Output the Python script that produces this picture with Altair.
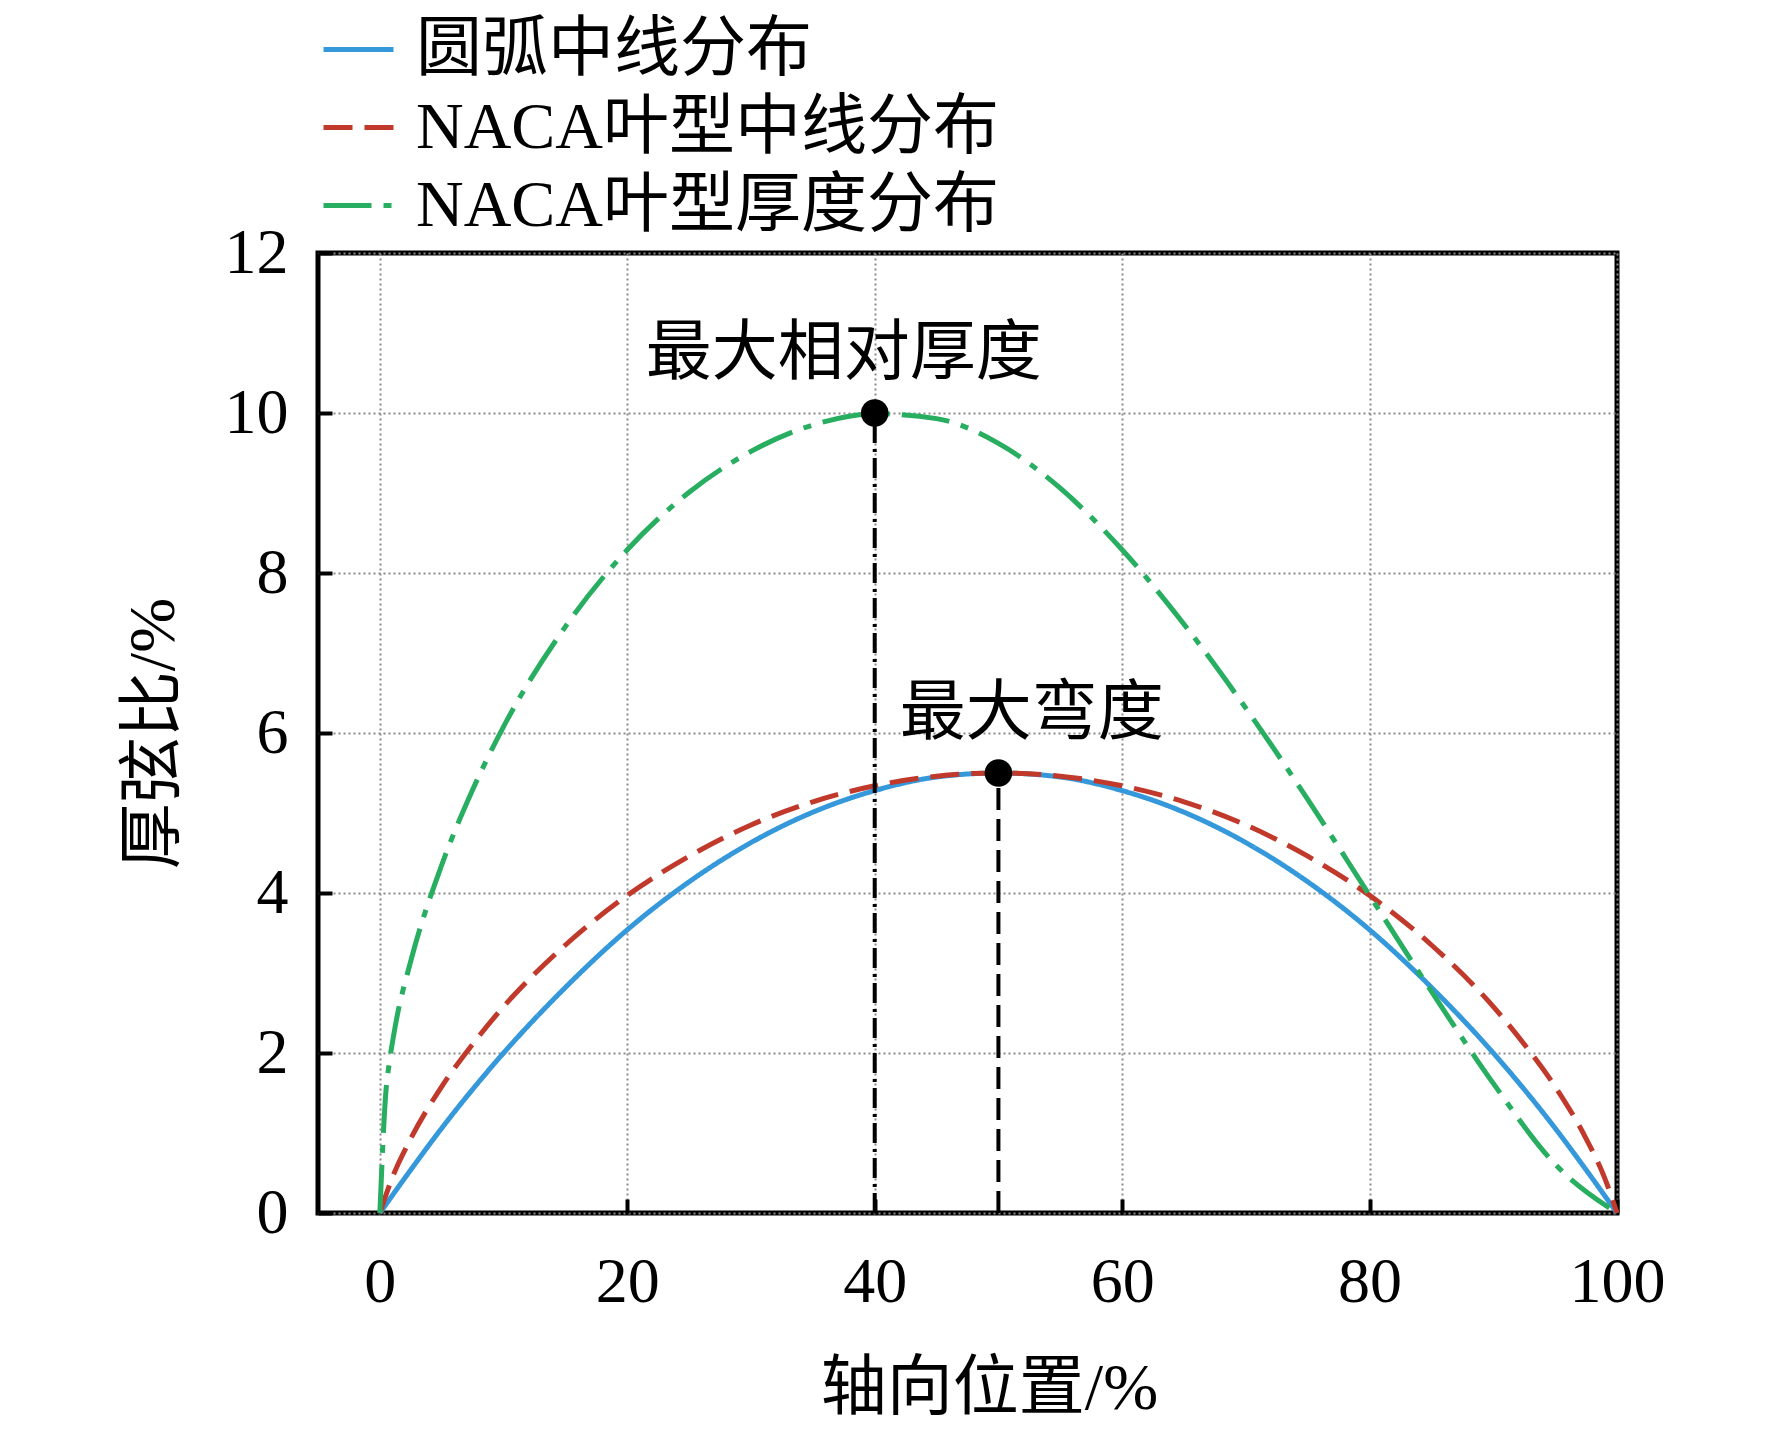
import altair as alt
import pandas as pd

FONT = "Liberation Serif, Noto Sans CJK SC"

series_names = ["圆弧中线分布", "NACA叶型中线分布", "NACA叶型厚度分布"]
series_colors = ["#3498DB", "#C0392B", "#27AE60"]
series_dashes = [[1, 0], [29, 12], [48, 12, 8, 12]]

# 圆弧中线
arc_x = [0, 2.5, 5, 10, 15, 20, 25, 30, 35, 40, 45, 50, 55, 60, 65, 70, 75, 80, 85, 90, 95, 97.5, 100]
arc_y = [0, 0.54, 1.06, 2.0, 2.82, 3.54, 4.14, 4.63, 5.01, 5.28, 5.45, 5.5, 5.45, 5.28, 5.01, 4.63, 4.14, 3.54, 2.82, 2.0, 1.06, 0.54, 0]

# NACA 中线
mean_x = [0, 1, 2.5, 5, 7.5, 10, 15, 20, 25, 30, 35, 40, 45, 50, 55, 60, 65, 70, 75, 80, 85, 90, 92.5, 95, 97.5, 99, 100]
mean_y = [0, 0.44, 0.93, 1.58, 2.11, 2.58, 3.35, 3.97, 4.46, 4.85, 5.14, 5.34, 5.46, 5.5, 5.46, 5.34, 5.14, 4.85, 4.46, 3.97, 3.35, 2.58, 2.11, 1.58, 0.93, 0.44, 0]

# NACA 厚度
thick_x = [0, 0.5, 0.75, 1.25, 2.5, 5, 7.5, 10, 15, 20, 25, 30, 35, 40, 45, 50, 55, 60, 65, 70, 75, 80, 85, 90, 95, 100]
thick_y = [0, 1.54, 1.86, 2.34, 3.15, 4.35, 5.29, 6.08, 7.33, 8.29, 9.01, 9.52, 9.85, 9.99, 9.93, 9.62, 9.06, 8.29, 7.36, 6.31, 5.17, 3.97, 2.77, 1.62, 0.61, 0]

marker_x = [40, 50]
marker_y = [10, 5.5]

ann_text = ["最大相对厚度", "最大弯度"]
ann_x = [37.5, 52.7]
ann_y = [10.74, 6.24]

x_ticks = [0, 20, 40, 60, 80, 100]
y_ticks = [0, 2, 4, 6, 8, 10, 12]

rows = []
for name, xs, ys in zip(series_names, [arc_x, mean_x, thick_x], [arc_y, mean_y, thick_y]):
    for i, (xv, yv) in enumerate(zip(xs, ys)):
        rows.append({"series": name, "x": xv, "y": yv, "i": i})
df = pd.DataFrame(rows)

xscale = alt.Scale(domain=[-5, 100], nice=False, zero=False)
yscale = alt.Scale(domain=[0, 12], nice=False, zero=False)

xaxis = alt.Axis(
    values=x_ticks, format="d", offset=-14, tickSize=14, tickWidth=4, tickColor="black",
    domain=False, grid=True, gridDash=[2, 3], gridColor="#8a8a8a", gridWidth=2,
    labelFont=FONT, labelFontSize=64, labelPadding=37, labelColor="black",
    labelFlush=False, labelOverlap=False,
    title="轴向位置/%", titleFont=FONT, titleFontSize=66, titleFontWeight="normal",
    titleColor="black", titleX=671, titleY=189, titleBaseline="middle",
)
yaxis = alt.Axis(
    values=y_ticks, format="d", offset=-14, tickSize=14, tickWidth=4, tickColor="black",
    domain=False, grid=True, gridDash=[2, 3], gridColor="#8a8a8a", gridWidth=2,
    labelFont=FONT, labelFontSize=64, labelPadding=30, labelColor="black",
    labelOverlap=False,
    title="厚弦比/%", titleFont=FONT, titleFontSize=66, titleFontWeight="normal",
    titleColor="black", titleX=-179, titleY=480, titleBaseline="middle", titleAngle=270,
)

legend = alt.Legend(
    title=None, orient="none", legendX=3, legendY=-241, padding=0,
    symbolType="stroke", symbolSize=4900, symbolStrokeWidth=5,
    labelFont=FONT, labelFontSize=66, labelColor="black", labelOffset=20,
    labelLimit=1000, rowPadding=7,
)

lines = alt.Chart(df).mark_line(strokeWidth=5, interpolate="monotone").encode(
    x=alt.X("x:Q", scale=xscale, axis=xaxis),
    y=alt.Y("y:Q", scale=yscale, axis=yaxis),
    color=alt.Color("series:N", scale=alt.Scale(domain=series_names, range=series_colors), legend=legend),
    strokeDash=alt.StrokeDash("series:N", scale=alt.Scale(domain=series_names, range=series_dashes), legend=legend),
    order="i:Q",
)

mk = pd.DataFrame({"x": marker_x, "y": marker_y, "y0": [0, 0]})

rule1 = alt.Chart(mk.iloc[[0]]).mark_rule(color="black", strokeWidth=4, strokeDash=[20, 6, 3, 6]).encode(
    x=alt.X("x:Q", scale=xscale), y=alt.Y("y0:Q", scale=yscale), y2="y:Q"
)
rule2 = alt.Chart(mk.iloc[[1]]).mark_rule(color="black", strokeWidth=4, strokeDash=[22, 9]).encode(
    x=alt.X("x:Q", scale=xscale), y=alt.Y("y0:Q", scale=yscale), y2="y:Q"
)

pts = alt.Chart(mk).mark_circle(size=760, color="black", opacity=1).encode(
    x=alt.X("x:Q", scale=xscale), y=alt.Y("y:Q", scale=yscale)
)

ann = pd.DataFrame({"t": ann_text, "x": ann_x, "y": ann_y})
texts = alt.Chart(ann).mark_text(font=FONT, fontSize=66, color="black", align="center", baseline="middle").encode(
    x=alt.X("x:Q", scale=xscale), y=alt.Y("y:Q", scale=yscale), text="t:N"
)

chart = alt.layer(lines, rule1, rule2, pts, texts).properties(
    width=1299, height=960,
    background="white",
    autosize=alt.AutoSizeParams(type="none"),
    padding={"left": 310, "top": 245, "right": 140, "bottom": 210},
).configure_view(stroke="black", strokeWidth=5)

chart.save("out.html", embed_options={"renderer": "svg", "actions": False})
